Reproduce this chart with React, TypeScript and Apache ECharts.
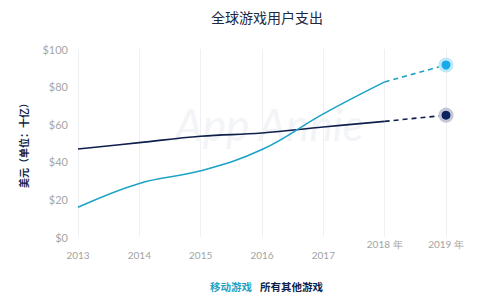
import React, { useEffect, useRef } from "react";
import * as echarts from "echarts";

const years = ["2013", "2014", "2015", "2016", "2017", "2018 年", "2019 年"];
const mobile = [15.8, 28.5, 35.2, 46.5, 65.5, 82.5, 91.5];
const others = [46.8, 50.2, 53.6, 55.3, 58.5, 61.5, 64.8];
const yTicks = [0, 20, 40, 60, 80, 100];

const MOBILE = "#1ca3c6";
const OTHER = "#0f1f4b";

export default function App() {
  const ref = useRef<HTMLDivElement>(null);
  useEffect(() => {
    const chart = echarts.init(ref.current!, null, { renderer: "svg" });
    const last = years.length - 1;
    const solid = (arr: number[]) => arr.map((v, i) => (i < last ? v : null));
    const dashed = (arr: number[], fill: string, halo: string) =>
      arr.map((v, i) =>
        i === last - 1
          ? { value: v, symbol: "none" }
          : i === last
          ? {
              value: v,
              symbol: "circle",
              symbolSize: 12,
              itemStyle: { color: fill, borderColor: halo, borderWidth: 3 },
            }
          : null
      );
    chart.setOption({
      animation: false,
      backgroundColor: "#ffffff",
      title: {
        text: "全球游戏用户支出",
        left: 262,
        textAlign: "center",
        top: 5,
        textStyle: { fontSize: 14, fontWeight: "normal", color: "#1e2a44", fontFamily: "Noto Sans CJK SC" },
      },
      legend: {
        top: 276,
        left: 205,
        icon: "rect",
        itemWidth: 0,
        itemHeight: 0,
        itemGap: 8,
        data: [
          { name: "移动游戏", textStyle: { color: MOBILE } },
          { name: "所有其他游戏", textStyle: { color: OTHER } },
        ],
        textStyle: { fontSize: 10.5, fontWeight: "bold", fontFamily: "Noto Sans CJK SC", padding: [0, 0, 0, -5] },
      },
      graphic: [
        {
          type: "text",
          left: 175,
          top: 102,
          style: {
            text: "App Annie",
            fontSize: 44,
            fontStyle: "italic",
            fontFamily: "Lato",
            fill: "#f3f4f7",
          },
          z: -1,
        },
      ],
      grid: { left: 78, right: 34, top: 49, bottom: 66, containLabel: false },
      xAxis: {
        type: "category",
        data: years,
        boundaryGap: false,
        axisLine: { show: false },
        axisTick: { show: false },
        axisLabel: {
          interval: 0,
          hideOverlap: false,
          color: "#a3a3a3",
          fontSize: 10,
          margin: 13,
          fontFamily: "Lato",
          formatter: (v: string) => (v.includes("年") ? "{up|" + v + "}" : v),
          rich: { up: { color: "#a3a3a3", fontSize: 10, fontFamily: "Lato", padding: [-12, 0, 0, 0] } },
        },
        splitLine: { show: true, interval: 0, lineStyle: { color: "#eef0f3", width: 1 } },
      },
      yAxis: {
        type: "value",
        min: 0,
        max: 100,
        interval: 20,
        name: "美元（单位：十亿）",
        nameLocation: "middle",
        nameGap: 50,
        nameRotate: 90,
        nameTextStyle: { color: OTHER, fontSize: 10, fontWeight: "bold", fontFamily: "Noto Sans CJK SC" },
        axisLine: { show: false },
        axisTick: { show: false },
        splitLine: { show: false },
        axisLabel: {
          color: "#a6a6a6",
          fontSize: 11,
          margin: 10,
          fontFamily: "Lato",
          formatter: (v: number) => (yTicks.includes(v) ? "$" + v : ""),
        },
      },
      series: [
        {
          name: "所有其他游戏",
          type: "line",
          data: solid(others),
          smooth: 0.4,
          showSymbol: false,
          itemStyle: { color: OTHER },
          lineStyle: { color: OTHER, width: 1.6 },
          z: 2,
        },
        {
          name: "所有其他游戏",
          type: "line",
          data: dashed(others, "#0c2160", "#c3c7d6"),
          showSymbol: true,
          symbol: "circle",
          itemStyle: { color: OTHER },
          lineStyle: { color: OTHER, width: 1.6, type: [5, 4] },
          z: 2,
        },
        {
          name: "移动游戏",
          type: "line",
          data: solid(mobile),
          smooth: 0.4,
          showSymbol: false,
          itemStyle: { color: MOBILE },
          lineStyle: { color: MOBILE, width: 1.6 },
          z: 3,
        },
        {
          name: "移动游戏",
          type: "line",
          data: dashed(mobile, "#17a9e8", "#bfe9f7"),
          showSymbol: true,
          symbol: "circle",
          itemStyle: { color: MOBILE },
          lineStyle: { color: MOBILE, width: 1.6, type: [5, 4] },
          z: 3,
        },
      ],
    });
    return () => chart.dispose();
  }, []);
  return <div ref={ref} style={{ width: 480, height: 303, position: "absolute", left: 0, top: 0 }} />;
}
